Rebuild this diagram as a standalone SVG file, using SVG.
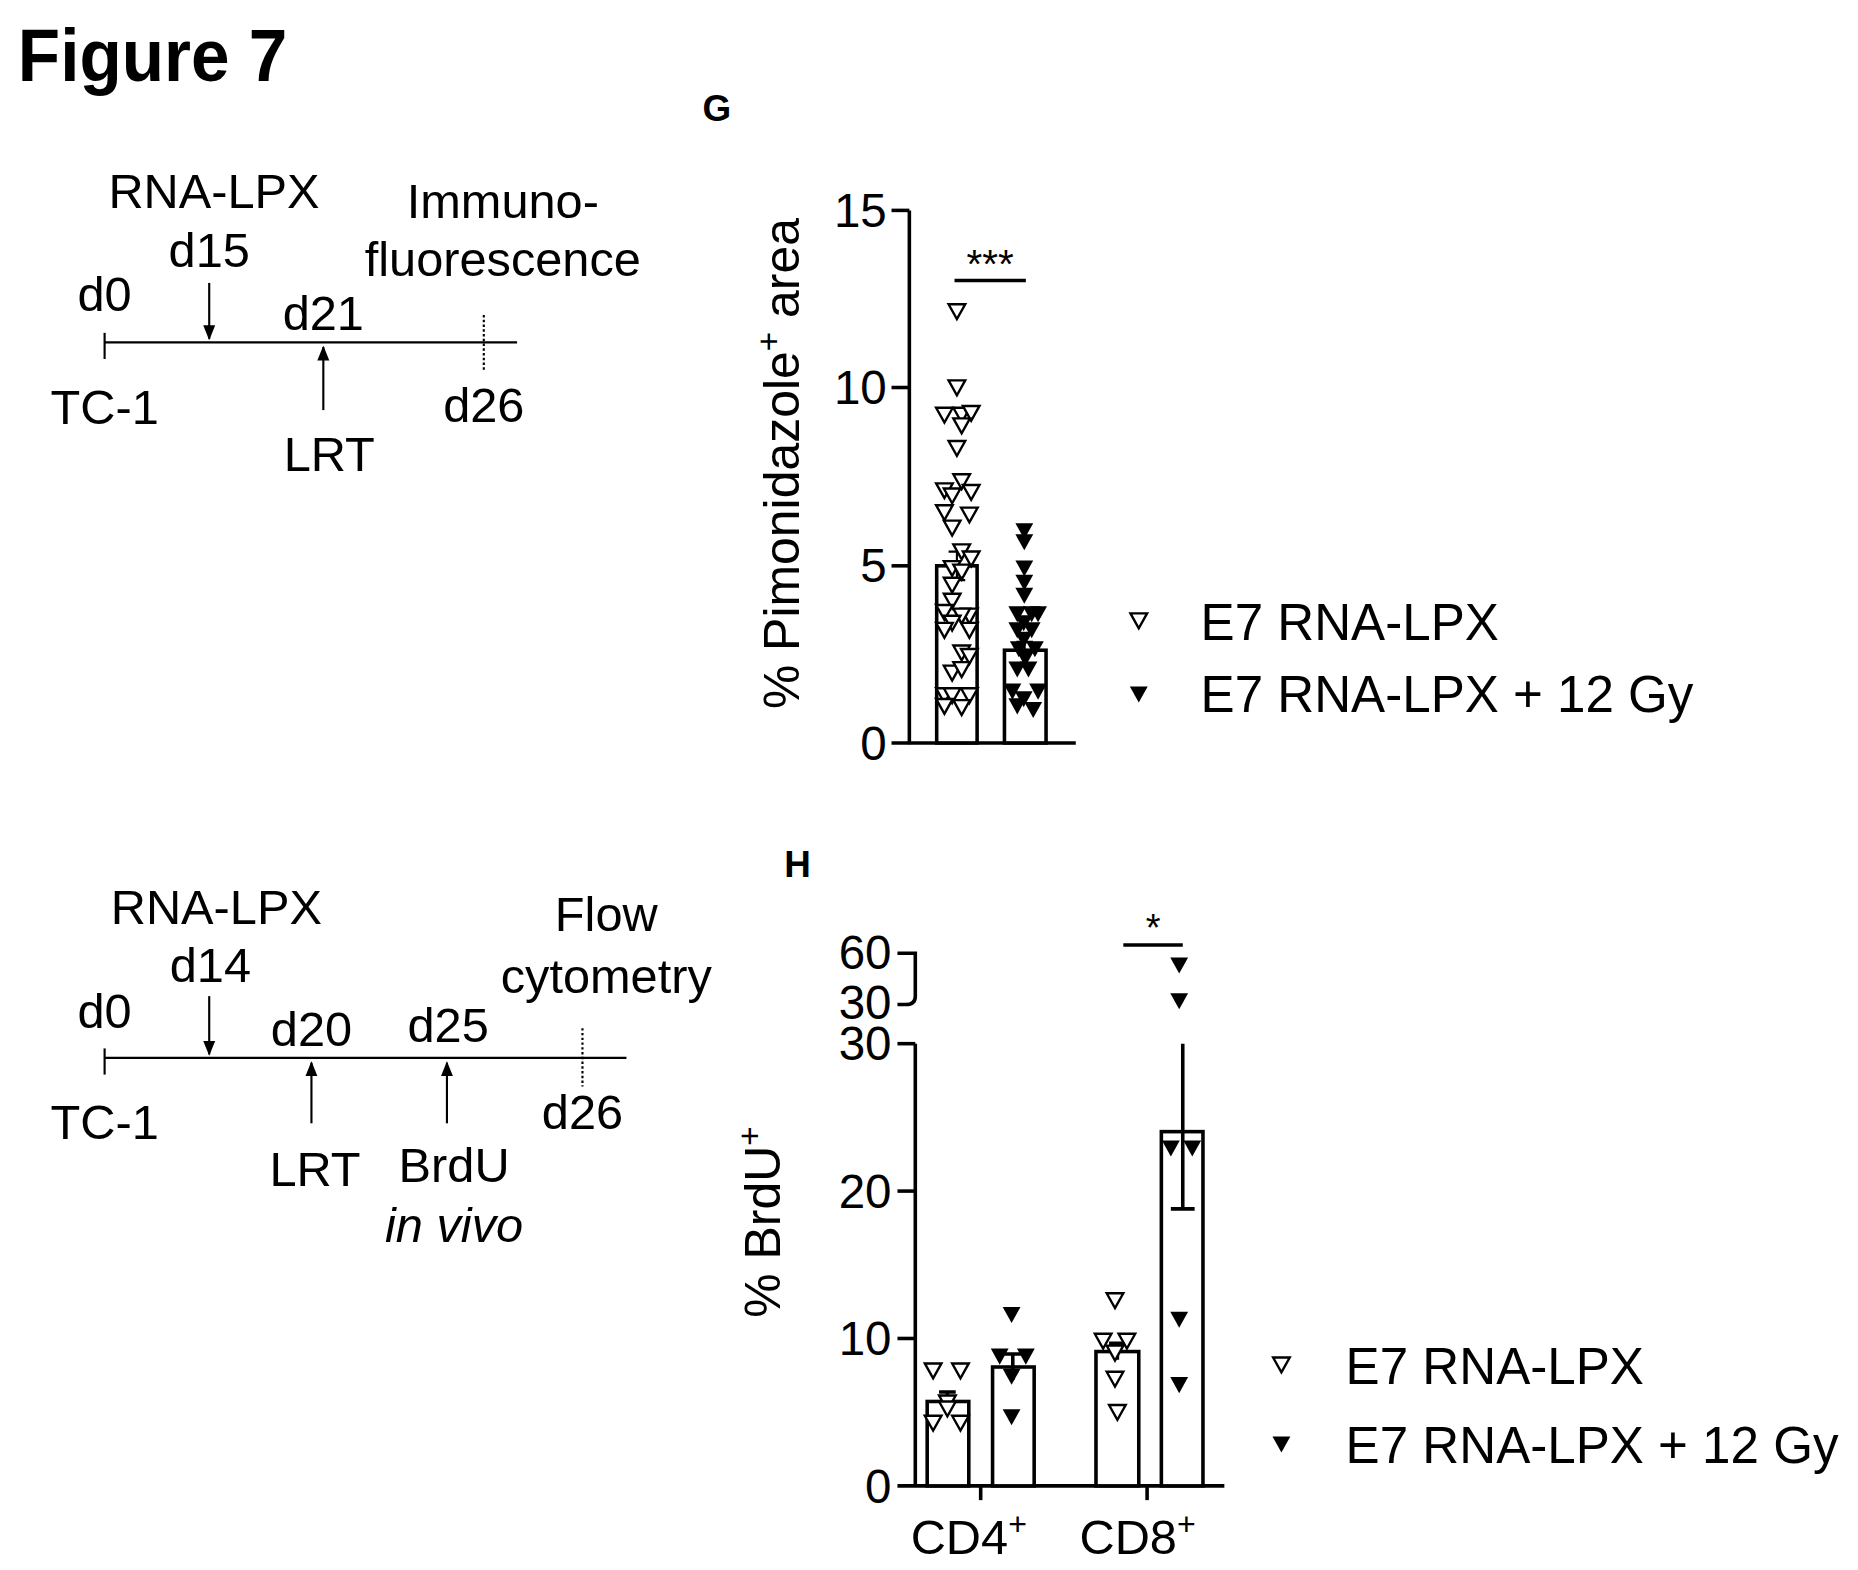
<svg xmlns="http://www.w3.org/2000/svg" width="1858" height="1570" viewBox="0 0 1858 1570">
<style>
text{font-family:"Liberation Sans",Arial,sans-serif;fill:#000}
.t{font-size:41px;text-anchor:middle}
.tk{font-size:40px;text-anchor:end}
.lg{font-size:43px}
.ax{stroke:#000;stroke-width:3;fill:none}
.thin{stroke:#000;stroke-width:1.8;fill:none}
.bar{fill:#fff;stroke:#000;stroke-width:3}
</style>
<defs>
<polygon id="o" points="-7,-6 7,-6 0,6.5" fill="#fff" stroke="#000" stroke-width="2"/>
<polygon id="f" points="-7.5,-6.5 7.5,-6.5 0,7" fill="#000"/>
<marker id="ah" viewBox="0 0 10 10" refX="9" refY="5" markerWidth="7" markerHeight="7" orient="auto"><path d="M0,1 L10,5 L0,9 Z" fill="#000"/></marker>
</defs>
<rect width="1858" height="1570" fill="#fff"/>
<g transform="scale(1.1887)">
<text x="15" y="68" font-size="62" font-weight="bold" transform="translate(15 0) scale(0.94 1) translate(-15 0)">Figure 7</text>

<g id="timeline1">
<line class="thin" x1="88" y1="288" x2="435" y2="288"/>
<line class="thin" x1="88" y1="280" x2="88" y2="302"/>
<line class="thin" x1="407" y1="265" x2="407" y2="312" stroke-dasharray="2,2"/>
<line class="thin" x1="176" y1="238" x2="176" y2="285" marker-end="url(#ah)"/>
<line class="thin" x1="272" y1="345" x2="272" y2="292" marker-end="url(#ah)"/>
<text class="t" x="88" y="262">d0</text>
<text class="t" x="88" y="357">TC-1</text>
<text class="t" x="180" y="175">RNA-LPX</text>
<text class="t" x="176" y="225">d15</text>
<text class="t" x="272" y="278">d21</text>
<text class="t" x="277" y="396">LRT</text>
<text class="t" x="423" y="183">Immuno-</text>
<text class="t" x="423" y="232">fluorescence</text>
<text class="t" x="407" y="355">d26</text>
</g>

<g id="panelG">
<text x="603" y="102" font-size="31" font-weight="bold" text-anchor="middle">G</text>
<line class="ax" x1="765" y1="177" x2="765" y2="626"/>
<line class="ax" x1="750" y1="177" x2="765" y2="177"/>
<line class="ax" x1="750" y1="326" x2="765" y2="326"/>
<line class="ax" x1="750" y1="476" x2="765" y2="476"/>
<line class="ax" x1="750" y1="625" x2="905" y2="625"/>
<text class="tk" x="746" y="191">15</text>
<text class="tk" x="746" y="340">10</text>
<text class="tk" x="746" y="490">5</text>
<text class="tk" x="746" y="639">0</text>
<text x="0" y="0" font-size="42" text-anchor="middle" transform="translate(672 390) rotate(-90)">% Pimonidazole<tspan dy="-16" font-size="28">+</tspan><tspan dy="16"> area</tspan></text>
<rect class="bar" x="788" y="476" width="34" height="149"/>
<rect class="bar" x="845" y="547" width="35" height="78"/>
<g class="thin">
<path d="M805 464 V488 M798 464 H812 M798 488 H812"/>
<path d="M862 540 V555 M855 540 H869"/>
</g>
<line class="ax" x1="803" y1="236" x2="863" y2="236"/>
<text x="833" y="234" font-size="34" text-anchor="middle">***</text>
<g>
<use href="#o" x="805" y="262"/><use href="#o" x="805" y="326"/>
<use href="#o" x="794.5" y="349"/><use href="#o" x="809" y="349"/><use href="#o" x="817" y="347.5"/><use href="#o" x="809" y="358"/>
<use href="#o" x="805" y="377"/>
<use href="#o" x="794.5" y="412.6"/><use href="#o" x="809" y="405"/><use href="#o" x="817" y="414"/><use href="#o" x="801" y="417"/>
<use href="#o" x="794.5" y="431"/><use href="#o" x="815.5" y="433"/><use href="#o" x="801" y="444"/>
<use href="#o" x="809" y="464"/><use href="#o" x="817" y="470"/><use href="#o" x="801" y="478"/><use href="#o" x="809" y="481"/>
<use href="#o" x="801" y="492"/><use href="#o" x="801" y="505.5"/><use href="#o" x="794.5" y="515"/><use href="#o" x="815.5" y="518"/>
<use href="#o" x="809" y="518"/><use href="#o" x="801" y="524"/><use href="#o" x="794.5" y="530"/><use href="#o" x="815.5" y="530"/>
<use href="#o" x="809" y="549"/><use href="#o" x="815.5" y="552"/><use href="#o" x="801" y="566"/><use href="#o" x="809" y="563"/>
<use href="#o" x="794.5" y="585"/><use href="#o" x="801" y="585"/><use href="#o" x="815.5" y="585"/><use href="#o" x="794.5" y="594"/><use href="#o" x="809" y="595"/>
</g>
<g>
<use href="#f" x="861.7" y="446.7"/><use href="#f" x="861.7" y="456"/><use href="#f" x="861.7" y="478"/><use href="#f" x="861.7" y="490"/><use href="#f" x="861.7" y="501"/>
<use href="#f" x="855.8" y="516.5"/><use href="#f" x="867.9" y="516.5"/><use href="#f" x="873.3" y="516.5"/><use href="#f" x="861.2" y="524"/>
<use href="#f" x="855.8" y="530"/><use href="#f" x="867.9" y="530"/><use href="#f" x="861.2" y="538"/><use href="#f" x="857.1" y="546"/><use href="#f" x="870.6" y="546"/>
<use href="#f" x="862.5" y="554"/><use href="#f" x="855.8" y="563"/><use href="#f" x="865.2" y="563"/><use href="#f" x="851.7" y="581.6"/><use href="#f" x="873.3" y="581.6"/>
<use href="#f" x="861.2" y="588"/><use href="#f" x="855.8" y="594"/><use href="#f" x="869.2" y="597"/>
</g>
<use href="#o" x="958" y="522"/>
<text class="lg" x="1010" y="538">E7 RNA-LPX</text>
<use href="#f" x="958" y="584"/>
<text class="lg" x="1010" y="599">E7 RNA-LPX + 12 Gy</text>
</g>

<g id="timeline2">
<line class="thin" x1="88" y1="890" x2="527" y2="890"/>
<line class="thin" x1="88" y1="882" x2="88" y2="904"/>
<line class="thin" x1="490" y1="865" x2="490" y2="914" stroke-dasharray="2,2"/>
<line class="thin" x1="176" y1="838" x2="176" y2="887" marker-end="url(#ah)"/>
<line class="thin" x1="262" y1="945" x2="262" y2="894" marker-end="url(#ah)"/>
<line class="thin" x1="376" y1="945" x2="376" y2="894" marker-end="url(#ah)"/>
<text class="t" x="88" y="865">d0</text>
<text class="t" x="88" y="958">TC-1</text>
<text class="t" x="182" y="777">RNA-LPX</text>
<text class="t" x="177" y="826">d14</text>
<text class="t" x="262" y="880">d20</text>
<text class="t" x="265" y="998">LRT</text>
<text class="t" x="377" y="877">d25</text>
<text class="t" x="382" y="994">BrdU</text>
<text class="t" x="382" y="1045" font-style="italic">in vivo</text>
<text class="t" x="510" y="783">Flow</text>
<text class="t" x="510" y="835">cytometry</text>
<text class="t" x="490" y="950">d26</text>
</g>

<g id="panelH">
<text x="671" y="738" font-size="31" font-weight="bold" text-anchor="middle">H</text>
<path class="ax" d="M755 802 H770 V838 Q770 845 762 845 H755"/>
<line class="ax" x1="770" y1="878" x2="770" y2="1251"/>
<line class="ax" x1="755" y1="878" x2="770" y2="878"/>
<line class="ax" x1="755" y1="1002" x2="770" y2="1002"/>
<line class="ax" x1="755" y1="1126" x2="770" y2="1126"/>
<line class="ax" x1="755" y1="1250" x2="1030" y2="1250"/>
<line class="ax" x1="825" y1="1250" x2="825" y2="1262"/>
<line class="ax" x1="965" y1="1250" x2="965" y2="1262"/>
<text class="tk" x="750" y="815">60</text>
<text class="tk" x="750" y="857">30</text>
<text class="tk" x="750" y="892">30</text>
<text class="tk" x="750" y="1016">20</text>
<text class="tk" x="750" y="1140">10</text>
<text class="tk" x="750" y="1264">0</text>
<text x="815" y="1307" font-size="41" text-anchor="middle">CD4<tspan dy="-16" font-size="27">+</tspan></text>
<text x="957" y="1307" font-size="41" text-anchor="middle">CD8<tspan dy="-16" font-size="27">+</tspan></text>
<text x="0" y="0" font-size="42" text-anchor="middle" transform="translate(656 1028) rotate(-90)">% BrdU<tspan dy="-16" font-size="28">+</tspan></text>
<rect class="bar" x="780" y="1179" width="35" height="71"/>
<rect class="bar" x="835" y="1150" width="35" height="100"/>
<rect class="bar" x="922" y="1137" width="36" height="113"/>
<rect class="bar" x="977" y="952" width="35" height="298"/>
<g class="ax">
<path d="M797 1171 V1187 M790 1171 H804"/>
<path d="M852 1139 V1161 M845 1139 H859"/>
<path d="M940 1130 V1144 M933 1130 H947"/>
<path d="M995 878 V1017 M985 1017 H1005"/>
</g>
<line class="ax" x1="945" y1="795" x2="995" y2="795"/>
<text x="970" y="792" font-size="32" text-anchor="middle">*</text>
<g>
<use href="#o" x="785" y="1153"/><use href="#o" x="808" y="1153"/><use href="#o" x="797" y="1180"/><use href="#o" x="785" y="1197"/><use href="#o" x="808" y="1197"/><use href="#o" x="797" y="1185"/>
<use href="#o" x="938" y="1094"/><use href="#o" x="928" y="1128"/><use href="#o" x="948" y="1128"/><use href="#o" x="938" y="1138"/><use href="#o" x="938" y="1160"/><use href="#o" x="940" y="1188"/>
</g>
<g>
<use href="#f" x="851" y="1106"/><use href="#f" x="841" y="1141"/><use href="#f" x="863" y="1141"/><use href="#f" x="851" y="1158"/><use href="#f" x="851" y="1192"/>
<use href="#f" x="992" y="812"/><use href="#f" x="992" y="842"/><use href="#f" x="985" y="966"/><use href="#f" x="1003" y="966"/><use href="#f" x="992" y="1110"/><use href="#f" x="992" y="1165"/>
</g>
<use href="#o" x="1078" y="1148"/>
<text class="lg" x="1132" y="1164">E7 RNA-LPX</text>
<use href="#f" x="1078" y="1215"/>
<text class="lg" x="1132" y="1231">E7 RNA-LPX + 12 Gy</text>
</g>
</g>
</svg>
